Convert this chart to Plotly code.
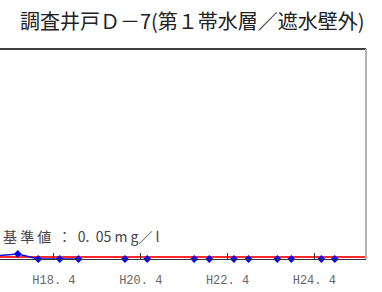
import plotly.graph_objects as go

title_text = "調査井戸Ｄ－7(第１帯水層／遮水壁外)"
std_label = "基 準 値  ：  0.  05 m g／ l"
std_value = 0.05

# sampling dates and concentrations (mg/l)
line_dates = ["2004-10-15", "2005-06-01", "2005-11-20", "2006-05-20", "2006-10-25"]
line_values = [0.06, 0.12, 0.0, 0.0, 0.0]
nd_dates = ["2007-11-20", "2008-05-25", "2009-06-25", "2009-10-30", "2010-05-25",
            "2010-09-25", "2011-05-25", "2011-09-20", "2012-05-30", "2012-09-20"]
nd_values = [0.0, 0.0, 0.0, 0.0, 0.0, 0.0, 0.0, 0.0, 0.0, 0.0]

tick_vals = ["2006-04-01", "2008-04-01", "2010-04-01", "2012-04-01"]
tick_text = ["H18. 4", "H20. 4", "H22. 4", "H24. 4"]

x_range = ["2005-01-02", "2013-06-10"]
y_range = [0, 5]

fig = go.Figure()
fig.add_trace(go.Scatter(
    x=x_range, y=[std_value, std_value], mode="lines",
    line=dict(color="#ff2a2a", width=2), showlegend=False,
))
fig.add_trace(go.Scatter(
    x=line_dates, y=line_values, mode="lines+markers",
    line=dict(color="#1010e0", width=1.5),
    marker=dict(color="#0000ff", size=6, symbol="diamond"),
    showlegend=False, cliponaxis=False,
))
fig.add_trace(go.Scatter(
    x=nd_dates, y=nd_values, mode="markers",
    marker=dict(color="#0000ff", size=6, symbol="diamond"),
    showlegend=False, cliponaxis=False,
))

# plot frame (top and right only; left side is cut off)
fig.add_shape(type="line", xref="paper", yref="paper", x0=0, x1=1, y0=1, y1=1,
              line=dict(color="#000000", width=1.5))
fig.add_shape(type="line", xref="paper", yref="paper", x0=1, x1=1, y0=0, y1=1,
              line=dict(color="#b4b4b4", width=2))

fig.add_annotation(text=title_text, xref="paper", yref="paper",
                   x=0.525, y=1, yshift=29, xanchor="center", yanchor="middle",
                   showarrow=False, font=dict(size=20, color="#222222",
                                              family="Noto Sans CJK JP"))
fig.add_annotation(text=std_label, xref="paper", yref="y",
                   x=0, y=0.55, xshift=1, xanchor="left", yanchor="middle",
                   showarrow=False, font=dict(size=14, color="#444444",
                                              family="Noto Sans CJK JP"))

fig.update_xaxes(range=x_range, tickvals=tick_vals, ticktext=tick_text,
                 showgrid=False, zeroline=False, showline=True,
                 linecolor="#303048", linewidth=1, automargin=False,
                 ticks="inside", ticklen=6, tickcolor="#333333",
                 ticklabelstandoff=10,
                 tickfont=dict(size=12, color="#666666", family="Liberation Mono"))
fig.update_yaxes(range=y_range, showgrid=False, zeroline=False, automargin=False,
                 showticklabels=False, showline=False, ticks="")

fig.update_layout(width=382, height=292,
                  margin=dict(l=0, r=16, t=49, b=33, autoexpand=False),
                  paper_bgcolor="white", plot_bgcolor="white")

fig.write_html("out.html", config={"displayModeBar": False},
               post_script="document.body.style.margin='0';")
